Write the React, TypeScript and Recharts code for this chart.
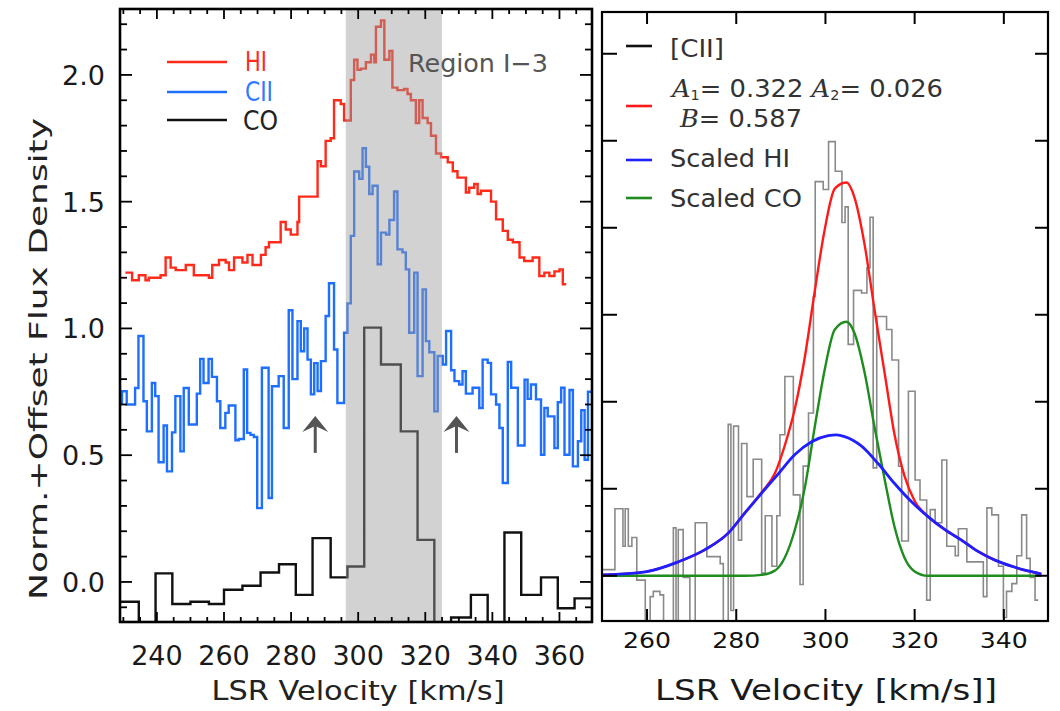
import React from 'react';
import { LineChart, Line, XAxis, YAxis, ReferenceArea, ReferenceDot } from 'recharts';

// ---------------- Left panel data (velocity km/s, normalized flux + offset) ----------------
const HI_SPEC: [number, number][] = [
  [230.6, 1.22], [232.6, 1.19], [234.6, 1.21], [236.6, 1.19], [237.6, 1.2], [241.1, 1.21], [242.6, 1.28],
  [244.1, 1.24], [245.6, 1.23], [248.6, 1.25], [251.0, 1.21], [255.5, 1.2], [256.5, 1.25], [258.5, 1.27],
  [260.5, 1.26], [261.5, 1.23], [263.0, 1.28], [265.5, 1.26], [267.0, 1.29], [268.5, 1.25], [271.0, 1.29],
  [272.4, 1.32], [273.4, 1.34], [276.9, 1.42], [278.4, 1.39], [279.9, 1.37], [281.9, 1.42], [282.4, 1.52],
  [287.9, 1.66], [288.9, 1.64], [290.3, 1.74], [291.8, 1.75], [292.8, 1.9], [294.8, 1.885], [295.8, 1.82],
  [297.8, 1.98], [298.8, 2.06], [299.8, 2.02], [300.8, 2.025], [302.3, 2.05], [303.8, 2.08], [304.8, 2.05],
  [305.3, 2.19], [306.8, 2.215], [307.8, 2.06], [309.3, 2.095], [310.2, 1.95], [311.7, 1.94], [313.7, 1.945],
  [314.7, 1.925], [315.7, 1.9], [317.2, 1.81], [318.2, 1.9], [319.2, 1.83], [320.7, 1.81], [321.7, 1.76],
  [323.2, 1.69], [324.7, 1.675], [326.7, 1.655], [328.2, 1.62], [329.6, 1.595], [332.1, 1.536], [333.1, 1.555],
  [334.6, 1.57], [335.6, 1.53], [336.6, 1.543], [339.6, 1.5], [341.1, 1.43], [343.1, 1.385], [344.6, 1.35],
  [346.1, 1.34], [348.1, 1.28], [349.5, 1.266], [352.0, 1.28], [354.0, 1.207], [355.5, 1.22], [357.0, 1.207],
  [358.5, 1.225], [360.0, 1.233], [361.0, 1.174], [362.0, 1.174],
];

const CII_SPEC: [number, number][] = [
  [229.1, 0.706], [229.6, 0.752], [231.0, 0.7], [233.5, 0.765], [234.5, 0.97], [236.0, 0.713], [237.0, 0.594],
  [238.5, 0.785], [239.5, 0.733], [240.5, 0.472], [242.0, 0.617], [243.0, 0.436], [244.5, 0.59], [245.5, 0.733],
  [247.0, 0.515], [248.0, 0.765], [249.5, 0.621], [251.9, 0.743], [252.9, 0.88], [253.9, 0.785], [255.4, 0.88],
  [256.4, 0.809], [257.9, 0.713], [258.9, 0.607], [260.4, 0.667], [261.4, 0.696], [263.4, 0.559], [264.4, 0.564],
  [265.9, 0.838], [266.9, 0.588], [267.9, 0.58], [268.9, 0.572], [269.9, 0.291], [271.3, 0.845], [273.3, 0.331],
  [274.3, 0.772], [276.3, 0.812], [277.8, 0.607], [279.3, 1.072], [280.4, 0.8], [281.9, 1.029], [282.9, 0.91],
  [283.9, 1.0], [284.9, 0.877], [285.9, 0.74], [286.9, 0.863], [287.9, 0.753], [288.9, 0.871], [290.3, 1.049],
  [291.3, 1.178], [292.8, 0.917], [293.8, 0.706], [295.8, 0.983], [296.8, 1.099], [297.8, 1.365], [298.8, 1.619],
  [300.3, 1.59], [301.3, 1.711], [302.3, 1.638], [303.3, 1.53], [304.3, 1.563], [305.8, 1.253], [306.8, 1.378],
  [308.3, 1.37], [309.3, 1.428], [310.7, 1.54], [311.7, 1.312], [313.2, 1.3], [314.2, 1.233], [315.2, 0.983],
  [316.7, 1.22], [317.7, 0.812], [319.2, 1.154], [320.2, 0.95], [321.2, 0.906], [322.7, 0.673], [323.7, 0.891],
  [325.2, 0.858], [326.2, 0.99], [327.7, 0.835], [328.7, 0.792], [330.1, 0.779], [331.1, 0.831], [332.1, 0.743],
  [334.1, 0.766], [336.1, 0.686], [337.1, 0.877], [338.6, 0.864], [339.6, 0.74], [341.1, 0.7], [342.1, 0.607],
  [343.1, 0.39], [344.6, 0.868], [345.6, 0.766], [347.6, 0.538], [349.6, 0.798], [350.5, 0.722], [351.5, 0.779],
  [353.0, 0.72], [354.5, 0.502], [355.5, 0.686], [356.5, 0.653], [358.5, 0.528], [359.5, 0.709], [360.5, 0.766],
  [361.5, 0.502], [363.0, 0.757], [364.0, 0.456], [365.5, 0.555], [366.5, 0.677], [367.5, 0.482], [368.5, 0.75],
  [369.7, 0.75],
];

const CO_SPEC: [number, number][] = [
  [229.2, -0.078], [234.6, -0.25], [239.6, 0.034], [244.6, -0.087], [250.0, -0.078], [255.5, -0.087],
  [260.0, -0.031], [265.5, -0.015], [270.9, 0.037], [276.4, 0.07], [281.4, -0.051], [286.4, 0.173],
  [291.8, 0.018], [296.8, 0.061], [301.8, 1.003], [306.8, 0.858], [312.7, 0.594], [317.7, 0.166],
  [322.7, -0.25], [327.7, -0.14], [333.6, -0.051], [338.6, -0.25], [343.6, 0.195], [348.6, -0.051],
  [354.5, 0.018], [359.5, -0.104], [364.5, -0.065], [369.7, -0.065],
];

const LEFT_X_DOMAIN: [number, number] = [229.0, 369.7];
const LEFT_Y_DOMAIN: [number, number] = [-0.158, 2.26];
const LEFT_X_TICKS = [230, 235, 240, 245, 250, 255, 260, 265, 270, 275, 280, 285, 290, 295, 300, 305, 310, 315, 320, 325, 330, 335, 340, 345, 350, 355, 360, 365];
const LEFT_X_LABELS = [240, 260, 280, 300, 320, 340, 360];
const LEFT_Y_TICKS = [-0.1, 0, 0.1, 0.2, 0.3, 0.4, 0.5, 0.6, 0.7, 0.8, 0.9, 1.0, 1.1, 1.2, 1.3, 1.4, 1.5, 1.6, 1.7, 1.8, 1.9, 2.0, 2.1, 2.2];
const LEFT_Y_LABELS = [0, 0.5, 1.0, 1.5, 2.0];
const REGION_RANGE: [number, number] = [296.3, 325.0];
const ARROW_POINTS = [{ v: 287.2, y: 0.655 }, { v: 329.3, y: 0.655 }];

// ---------------- Right panel data ----------------
const CII_HIST: [number, number][] = [
  [250.0, 0.007], [252.8, 0.077], [254.6, 0.034], [255.1, 0.077], [255.8, 0.034], [256.6, 0.044], [257.7, -0.005],
  [259.6, -0.06], [260.7, -0.024], [261.4, -0.018], [262.9, -0.022], [263.7, -0.06], [265.9, 0.055], [266.5, -0.06],
  [267.0, 0.053], [268.1, -0.002], [269.6, -0.06], [270.8, 0.061], [273.4, 0.022], [276.4, 0.014], [277.1, -0.06],
  [278.2, 0.174], [278.8, -0.04], [279.4, 0.172], [280.5, 0.041], [281.2, 0.152], [282.4, 0.091], [283.8, 0.134],
  [285.7, 0.003], [286.5, 0.069], [288.0, 0.011], [289.1, 0.069], [289.8, 0.162], [290.9, 0.229], [292.8, 0.093],
  [294.3, -0.01], [295.0, 0.126], [296.2, 0.187], [297.3, 0.321], [297.7, 0.453], [299.5, 0.444], [300.7, 0.499],
  [302.2, 0.465], [303.7, 0.406], [304.4, 0.424], [305.1, 0.266], [306.3, 0.328], [308.1, 0.325], [309.3, 0.354],
  [310.0, 0.412], [310.7, 0.124], [311.5, 0.298], [313.7, 0.283], [314.9, 0.248], [316.4, 0.126], [317.1, 0.04],
  [318.6, 0.212], [320.1, 0.11], [321.2, 0.087], [322.7, -0.028], [323.5, 0.076], [324.6, 0.061], [326.1, 0.133],
  [327.2, 0.034], [329.1, 0.023], [329.8, 0.054], [331.7, 0.016], [335.4, -0.024], [336.2, 0.078], [337.3, 0.07],
  [338.8, 0.011], [339.9, -0.048], [340.6, -0.018], [341.8, -0.009], [342.9, 0.023], [344.0, 0.07], [345.1, 0.02],
  [345.9, -0.002], [347.0, -0.028], [347.7, -0.028],
];

const FIT_TOTAL: [number, number][] = [
  [250.0, 0.001], [259.6, 0.0045], [267.0, 0.016], [273.0, 0.03], [278.2, 0.049], [281.9, 0.072], [285.7, 0.096],
  [288.7, 0.118], [290.9, 0.15], [293.1, 0.191], [295.4, 0.252], [297.6, 0.327], [299.8, 0.397], [302.1, 0.445],
  [304.7, 0.452], [306.5, 0.435], [308.8, 0.38], [311.0, 0.306], [313.3, 0.232], [315.5, 0.162], [317.7, 0.115],
  [320.0, 0.086], [323.0, 0.068], [326.8, 0.053], [330.5, 0.041], [334.2, 0.028], [338.0, 0.018], [341.7, 0.011],
  [345.4, 0.0055], [348.4, 0.002],
];

const SCALED_HI: [number, number][] = [
  [250.0, 0.001], [259.6, 0.0045], [267.0, 0.016], [273.0, 0.03], [278.2, 0.049], [281.9, 0.072], [285.7, 0.095],
  [289.4, 0.117], [293.1, 0.139], [296.9, 0.154], [300.6, 0.161], [302.5, 0.162], [304.3, 0.16], [308.1, 0.149], [311.8, 0.129],
  [315.5, 0.106], [319.3, 0.085], [323.0, 0.068], [326.8, 0.053], [330.5, 0.041], [334.2, 0.028], [338.0, 0.018],
  [341.7, 0.011], [345.4, 0.0055], [348.4, 0.002],
];

const SCALED_CO: [number, number][] = [
  [250.0, 0], [282.0, 0], [285.7, 0.001], [288.7, 0.006], [290.9, 0.021], [293.1, 0.052], [295.4, 0.102],
  [297.6, 0.171], [299.8, 0.236], [302.1, 0.283], [304.7, 0.292], [306.5, 0.279], [308.8, 0.233], [311.0, 0.171],
  [313.3, 0.11], [315.5, 0.056], [317.7, 0.021], [320.0, 0.005], [323.0, 0], [348.4, 0],
];

const RIGHT_X_DOMAIN: [number, number] = [249.9, 349.9];
const RIGHT_Y_DOMAIN: [number, number] = [-0.052, 0.648];
const RIGHT_X_TICKS = [260, 280, 300, 320, 340];
const RIGHT_Y_TICKS = [0, 0.1, 0.2, 0.3, 0.4, 0.5, 0.6];

// ---------------- layout ----------------
const FONT = '"DejaVu Sans", Verdana, sans-serif';
const LW = 472; // left plot width
const LH = 613; // left plot height
const RW = 446;
const RH = 609;

const toPts = (arr: [number, number][]) => arr.map(([v, y]) => ({ v, y }));

const isIn = (list: number[], v: number) => list.some((t) => Math.abs(t - v) < 1e-6);

function LeftXTick(props: any) {
  const { x, y, payload } = props;
  const v = payload.value;
  const major = isIn(LEFT_X_LABELS, v);
  const len = major ? 10 : 5;
  return (
    <g>
      <line x1={x} x2={x} y1={y} y2={y - len} stroke="#000" strokeWidth={1.8} />
      <line x1={x} x2={x} y1={y - LH} y2={y - LH + len} stroke="#000" strokeWidth={1.8} />
      {major && (
        <text x={x} y={y + 43} textAnchor="middle" fontSize={27} fill="#1a1a1a" fontFamily={FONT}>
          {v}
        </text>
      )}
    </g>
  );
}

function LeftYTick(props: any) {
  const { x, y, payload } = props;
  const v = payload.value;
  const major = isIn(LEFT_Y_LABELS, v);
  const len = major ? 12 : 7;
  return (
    <g>
      <line x1={x} x2={x + len} y1={y} y2={y} stroke="#000" strokeWidth={1.8} />
      <line x1={x + LW} x2={x + LW - len} y1={y} y2={y} stroke="#000" strokeWidth={1.8} />
      {major && (
        <text x={x - 15} y={y + 10} textAnchor="end" fontSize={27} fill="#1a1a1a" fontFamily={FONT}>
          {v.toFixed(1)}
        </text>
      )}
    </g>
  );
}

function RightXTick(props: any) {
  const { x, y, payload } = props;
  return (
    <g>
      <line x1={x} x2={x} y1={y} y2={y - 12} stroke="#000" strokeWidth={2} />
      <line x1={x} x2={x} y1={y - RH} y2={y - RH + 12} stroke="#000" strokeWidth={2} />
      <text x={x} y={y + 27} textAnchor="middle" fontSize={22} fill="#111" fontFamily={FONT}
        textLength={48} lengthAdjust="spacingAndGlyphs">
        {payload.value}
      </text>
    </g>
  );
}

function RightYTick(props: any) {
  const { x, y } = props;
  return (
    <g>
      <line x1={x} x2={x + 15} y1={y} y2={y} stroke="#000" strokeWidth={2} />
      <line x1={x + RW} x2={x + RW - 13} y1={y} y2={y} stroke="#000" strokeWidth={2} />
    </g>
  );
}

function ArrowShape(props: any) {
  const { cx, cy } = props;
  if (cx == null || cy == null) return null;
  return (
    <g>
      <path d={`M${cx},${cy} L${cx - 13},${cy + 16} L${cx},${cy + 10} L${cx + 13},${cy + 16} Z`} fill="#555" />
      <line x1={cx} x2={cx} y1={cy + 8} y2={cy + 37} stroke="#555" strokeWidth={3} />
    </g>
  );
}

function LeftPanel() {
  return (
    <LineChart width={600} height={711} margin={{ top: 9, right: 8, left: 0, bottom: 0 }}>
      <XAxis dataKey="v" type="number" domain={LEFT_X_DOMAIN} allowDataOverflow ticks={LEFT_X_TICKS}
        interval={0} height={89} tickSize={0} tickMargin={0} tickLine={false} axisLine={false}
        tick={(p: any) => <LeftXTick {...p} />} />
      <YAxis type="number" domain={LEFT_Y_DOMAIN} allowDataOverflow ticks={LEFT_Y_TICKS} interval={0}
        width={120} tickSize={0} tickMargin={0} tickLine={false} axisLine={false}
        tick={(p: any) => <LeftYTick {...p} />} />
      <Line data={toPts(CO_SPEC)} dataKey="y" type="stepAfter" stroke="#111" strokeWidth={2.4}
        dot={false} activeDot={false} isAnimationActive={false} />
      <Line data={toPts(CII_SPEC)} dataKey="y" type="stepAfter" stroke="#1f6fff" strokeWidth={2.4}
        dot={false} activeDot={false} isAnimationActive={false} />
      <Line data={toPts(HI_SPEC)} dataKey="y" type="stepAfter" stroke="#ff2a1a" strokeWidth={2.4}
        dot={false} activeDot={false} isAnimationActive={false} />
      <ReferenceArea x1={REGION_RANGE[0]} x2={REGION_RANGE[1]} fill="#9b9b9b" fillOpacity={0.45}
        stroke="none" ifOverflow="hidden" zIndex={900} />
      {ARROW_POINTS.map((a, i) => (
        <ReferenceDot key={i} x={a.v} y={a.y} r={1} shape={(p: any) => <ArrowShape {...p} />} ifOverflow="visible" />
      ))}
    </LineChart>
  );
}

function RightPanel() {
  return (
    <LineChart width={460} height={711} margin={{ top: 12, right: 12, left: 0, bottom: 0 }}>
      <XAxis dataKey="v" type="number" domain={RIGHT_X_DOMAIN} allowDataOverflow ticks={RIGHT_X_TICKS}
        interval={0} height={90} tickSize={0} tickMargin={0} tickLine={false} axisLine={false}
        tick={(p: any) => <RightXTick {...p} />} />
      <YAxis type="number" domain={RIGHT_Y_DOMAIN} allowDataOverflow ticks={RIGHT_Y_TICKS} interval={0}
        width={2} tickSize={0} tickMargin={0} tickLine={false} axisLine={false}
        tick={(p: any) => <RightYTick {...p} />} />
      <Line data={toPts(CII_HIST)} dataKey="y" type="stepAfter" stroke="#8a8a8a" strokeWidth={1.6}
        dot={false} activeDot={false} isAnimationActive={false} />
      <Line data={toPts(FIT_TOTAL)} dataKey="y" type="monotone" stroke="#ff1a1a" strokeWidth={2.4}
        dot={false} activeDot={false} isAnimationActive={false} />
      <Line data={toPts(SCALED_CO)} dataKey="y" type="monotone" stroke="#1e8c1e" strokeWidth={2.4}
        dot={false} activeDot={false} isAnimationActive={false} />
      <Line data={toPts(SCALED_HI)} dataKey="y" type="monotone" stroke="#1f1fff" strokeWidth={2.8}
        dot={false} activeDot={false} isAnimationActive={false} />
    </LineChart>
  );
}

function Overlay() {
  const t = { fontFamily: FONT } as const;
  return (
    <svg width={1060} height={711} style={{ position: 'absolute', left: 0, top: 0, pointerEvents: 'none' }}>
      <rect x={120} y={9} width={LW} height={LH} fill="none" stroke="#000" strokeWidth={2.6} />
      <rect x={602} y={12} width={RW} height={RH} fill="none" stroke="#000" strokeWidth={2.2} />
      {/* left legend */}
      <line x1={167} x2={227} y1={62} y2={62} stroke="#ff2a1a" strokeWidth={2.6} />
      <line x1={167} x2={227} y1={92} y2={92} stroke="#1f6fff" strokeWidth={2.6} />
      <line x1={167} x2={227} y1={120} y2={120} stroke="#111" strokeWidth={2.6} />
      <text x={245} y={71} fontSize={26} fill="#ff2a1a" {...t} textLength={22} lengthAdjust="spacingAndGlyphs">HI</text>
      <text x={245} y={101} fontSize={26} fill="#2f7bff" {...t} textLength={28} lengthAdjust="spacingAndGlyphs">CII</text>
      <text x={243} y={130} fontSize={26} fill="#222" {...t} textLength={35} lengthAdjust="spacingAndGlyphs">CO</text>
      <text x={408} y={72} fontSize={25} fill="#555" {...t} textLength={140} lengthAdjust="spacingAndGlyphs">Region I−3</text>
      {/* axis titles */}
      <text transform="translate(47,359) rotate(-90)" textAnchor="middle" fontSize={25} fill="#222" {...t}
        textLength={482} lengthAdjust="spacingAndGlyphs">Norm.+Offset Flux Density</text>
      <text x={358} y={700} textAnchor="middle" fontSize={26} fill="#222" {...t}
        textLength={293} lengthAdjust="spacingAndGlyphs">LSR Velocity [km/s]</text>
      <text x={826} y={700} textAnchor="middle" fontSize={28} fill="#1a1a1a" {...t}
        textLength={342} lengthAdjust="spacingAndGlyphs">LSR Velocity [km/s]]</text>
      {/* right legend */}
      <line x1={626} x2={652} y1={46} y2={46} stroke="#111" strokeWidth={2.6} />
      <line x1={626} x2={652} y1={106} y2={106} stroke="#ff1a1a" strokeWidth={2.6} />
      <line x1={626} x2={652} y1={160} y2={160} stroke="#1f1fff" strokeWidth={2.6} />
      <line x1={626} x2={652} y1={198} y2={198} stroke="#1e8c1e" strokeWidth={2.6} />
      <text x={670} y={57} fontSize={25} fill="#333" {...t} textLength={54} lengthAdjust="spacingAndGlyphs">[CII]</text>
      <text x={672} y={97} fontSize={25} fill="#333" {...t} textLength={271} lengthAdjust="spacingAndGlyphs">
        <tspan fontFamily='"DejaVu Serif", serif' fontStyle="italic">A</tspan>
        <tspan fontSize={14} dy={3}>1</tspan>
        <tspan dy={-3}>= 0.322 </tspan>
        <tspan fontFamily='"DejaVu Serif", serif' fontStyle="italic">A</tspan>
        <tspan fontSize={14} dy={3}>2</tspan>
        <tspan dy={-3}>= 0.026</tspan>
      </text>
      <text x={680} y={127} fontSize={25} fill="#333" {...t} textLength={122} lengthAdjust="spacingAndGlyphs">
        <tspan fontFamily='"DejaVu Serif", serif' fontStyle="italic">B</tspan>
        <tspan>= 0.587</tspan>
      </text>
      <text x={670} y={167} fontSize={25} fill="#333" {...t} textLength={120} lengthAdjust="spacingAndGlyphs">Scaled HI</text>
      <text x={670} y={207} fontSize={25} fill="#333" {...t} textLength={132} lengthAdjust="spacingAndGlyphs">Scaled CO</text>
    </svg>
  );
}

export default function App() {
  return (
    <div style={{ position: 'absolute', left: 0, top: 0, width: 1060, height: 711, background: '#fff', overflow: 'hidden' }}>
      <div style={{ position: 'absolute', left: 0, top: 0 }}>
        <LeftPanel />
      </div>
      <div style={{ position: 'absolute', left: 600, top: 0 }}>
        <RightPanel />
      </div>
      <Overlay />
    </div>
  );
}
